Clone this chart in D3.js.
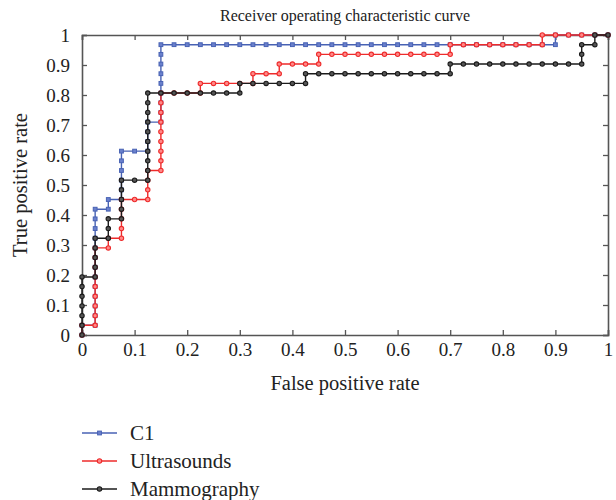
<!DOCTYPE html>
<html>
<head>
<meta charset="utf-8">
<script src="https://cdn.jsdelivr.net/npm/d3@7"></script>
<style>
  body { margin: 0; background: #fff; }
  svg text { font-family: "Liberation Serif", "DejaVu Serif", serif; fill: #222; }
</style>
</head>
<body>
<div id="chart"></div>
<script>
// ROC data: cases ranked by score, 'P' = positive (step up), 'N' = negative (step right).
// 31 positives and 40 negatives per series. Spaces are only for reading.
const c1Ranked = 'P N PPPPP PPPPP PP N P N PPPPP NN PPP N PPPPP PPP ' +
  'NNNNN NNNNN NNNNN NNNNN NNNNN NNNNN P NNNN'
const usRanked = 'P N PPPPP PPP N P N PPPP NN PPP N PPPPP PPP NNN P NNNN P NN P NNN P ' +
  'NNNNN NNNNN P NNNNN NN P NNNNN'
const mammoRanked = 'PPPPP P N PPPP N PP N PPPP NN PPPPP PPPP NNNNN NN P NNNNN P ' +
  'NNNNN NNNNN N P NNNNN NNNNN PP N P N'

const seriesNames = ['C1', 'Ultrasounds', 'Mammography']
const seriesColors = ['#4862b4', '#ee2b2b', '#1b1b1b']
const xTicks = [0, 0.1, 0.2, 0.3, 0.4, 0.5, 0.6, 0.7, 0.8, 0.9, 1]
const yTicks = [0, 0.1, 0.2, 0.3, 0.4, 0.5, 0.6, 0.7, 0.8, 0.9, 1]

// Cumulative TPR / FPR points from a ranking.
function rocPoints(ranked) {
  const seq = ranked.replace(/\s/g, '').split('')
  const pos = seq.filter(c => c === 'P').length
  const neg = seq.length - pos
  let tp = 0, fp = 0
  const pts = [{ x: 0, y: 0 }]
  for (const c of seq) {
    if (c === 'P') tp++
    else fp++
    pts.push({ x: fp / neg, y: tp / pos })
  }
  return pts
}

const series = [c1Ranked, usRanked, mammoRanked].map((r, i) => ({
  name: seriesNames[i], color: seriesColors[i], points: rocPoints(r)
}))

const width = 616, height = 500
const margin = { top: 35, right: 8, bottom: 165, left: 82 }
const serif = '"Liberation Serif", "DejaVu Serif", serif'

const svg = d3.select('#chart').append('svg')
  .attr('width', width)
  .attr('height', height)

const x = d3.scaleLinear().domain([0, 1]).range([margin.left, width - margin.right])
const y = d3.scaleLinear().domain([0, 1]).range([height - margin.bottom, margin.top])

const axisColor = '#555'

// Axes with inward ticks on all four sides.
const fmt = d => d === 0 || d === 1 ? String(d) : d3.format('.1f')(d)

const axisBottomG = svg.append('g')
  .attr('transform', 'translate(0,' + y(0) + ')')
  .call(d3.axisBottom(x).tickValues(xTicks).tickSize(-5).tickPadding(8).tickFormat(fmt))
const axisTopG = svg.append('g')
  .attr('transform', 'translate(0,' + y(1) + ')')
  .call(d3.axisTop(x).tickValues(xTicks).tickSize(-5).tickFormat(''))
const axisLeftG = svg.append('g')
  .attr('transform', 'translate(' + x(0) + ',0)')
  .call(d3.axisLeft(y).tickValues(yTicks).tickSize(-5).tickPadding(12).tickFormat(fmt))
const axisRightG = svg.append('g')
  .attr('transform', 'translate(' + x(1) + ',0)')
  .call(d3.axisRight(y).tickValues(yTicks).tickSize(-5).tickFormat(''))

for (const g of [axisBottomG, axisTopG, axisLeftG, axisRightG]) {
  g.attr('font-family', serif).attr('font-size', 19)
  g.select('.domain').attr('stroke', axisColor).attr('stroke-width', 1.6)
  g.selectAll('.tick line').attr('stroke', axisColor).attr('stroke-width', 1.3)
  g.selectAll('.tick text').attr('fill', '#222')
}

// ROC step lines and markers.
const line = d3.line().x(d => x(d.x)).y(d => y(d.y))

function drawMarkers(g, pts, i, color) {
  if (i === 0) {
    g.selectAll('rect').data(pts).enter().append('rect')
      .attr('x', d => x(d.x) - 1.9)
      .attr('y', d => y(d.y) - 1.9)
      .attr('width', 3.8).attr('height', 3.8)
      .attr('fill', '#6a80cc').attr('stroke', color).attr('stroke-width', 1)
  } else if (i === 1) {
    g.selectAll('circle').data(pts).enter().append('circle')
      .attr('cx', d => x(d.x)).attr('cy', d => y(d.y)).attr('r', 2.2)
      .attr('fill', '#f88').attr('stroke', color).attr('stroke-width', 1.1)
  } else {
    g.selectAll('circle').data(pts).enter().append('circle')
      .attr('cx', d => x(d.x)).attr('cy', d => y(d.y)).attr('r', 2.2)
      .attr('fill', '#555').attr('stroke', color).attr('stroke-width', 1.1)
  }
}

series.forEach((s, i) => {
  const g = svg.append('g')
  g.append('path')
    .datum(s.points)
    .attr('d', line)
    .attr('fill', 'none')
    .attr('stroke', s.color)
    .attr('stroke-width', 1.4)
  drawMarkers(g, s.points, i, s.color)
})

// Title and axis labels.
svg.append('text')
  .attr('x', x(0.5)).attr('y', 21)
  .attr('text-anchor', 'middle')
  .style('font-size', '16px')
  .text('Receiver operating characteristic curve')

svg.append('text')
  .attr('x', x(0.5)).attr('y', 390)
  .attr('text-anchor', 'middle')
  .style('font-size', '20.5px')
  .text('False positive rate')

svg.append('text')
  .attr('transform', 'translate(27,' + y(0.5) + ') rotate(-90)')
  .attr('text-anchor', 'middle')
  .style('font-size', '20.5px')
  .text('True positive rate')

// Legend.
const legend = svg.append('g')
series.forEach((s, i) => {
  const ly = 433 + i * 28
  const lx0 = 82, lx1 = 117
  legend.append('line')
    .attr('x1', lx0).attr('x2', lx1).attr('y1', ly).attr('y2', ly)
    .attr('stroke', s.color).attr('stroke-width', 1.4)
  const mid = [{ x: x.invert((lx0 + lx1) / 2), y: y.invert(ly) }]
  drawMarkers(legend.append('g'), mid, i, s.color)
  legend.append('text')
    .attr('x', 130).attr('y', ly + 7)
    .style('font-size', '21px')
    .text(s.name)
})
</script>
</body>
</html>
